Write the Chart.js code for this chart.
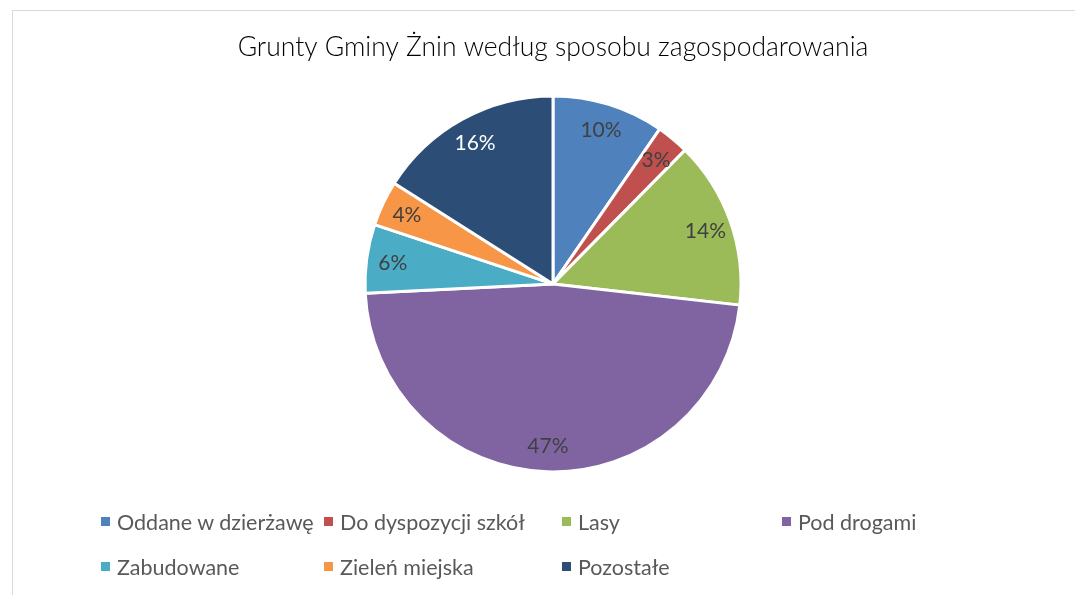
<!DOCTYPE html>
<html>
<head>
  <meta charset="utf-8">
  <title>Grunty Gminy Żnin</title>
  <script src="https://cdn.jsdelivr.net/npm/chart.js"></script>
  <style>
    body {
      margin: 0;
      padding: 0;
      background-color: #fff;
      font-family: Lato, "Open Sans", sans-serif;
    }
    #wrap {
      position: relative;
      width: 1075px;
      height: 595px;
      overflow: hidden;
    }
    .frame {
      position: absolute;
      left: 12px;
      top: 10px;
      width: 1100px;
      height: 620px;
      border: 1px solid #d9d9d9;
    }
    canvas {
      position: absolute;
      left: 0;
      top: 0;
    }
    #legend {
      position: absolute;
      left: 101px;
      top: 499px;
      display: grid;
      grid-template-columns: 223px 238px 220px 200px;
      grid-auto-rows: 45px;
      font-size: 21.5px;
      color: #595959;
    }
    .item {
      display: flex;
      align-items: center;
      white-space: nowrap;
    }
    .box {
      width: 9px;
      height: 9px;
      margin-right: 7px;
      flex: none;
    }
  </style>
</head>
<body>
  <div id="wrap">
    <div class="frame"></div>
    <canvas id="pieChart" width="1075" height="595"></canvas>
    <div id="legend"></div>
  </div>
  <script>
    const categories = ['Oddane w dzierżawę', 'Do dyspozycji szkół', 'Lasy', 'Pod drogami', 'Zabudowane', 'Zieleń miejska', 'Pozostałe'];
    const shares = [9.6, 2.8, 14.4, 47.4, 5.9, 3.9, 16.0];
    const colors = ['#4f81bd', '#c0504d', '#9bbb59', '#8064a2', '#4bacc6', '#f79646', '#2c4d75'];
    const labelColors = ['#404040', '#404040', '#404040', '#404040', '#404040', '#404040', '#ffffff'];

    // percentage labels inside the slices
    const sliceLabels = {
      id: 'sliceLabels',
      afterDatasetsDraw(chart) {
        const ctx = chart.ctx;
        const meta = chart.getDatasetMeta(0);
        const total = shares.reduce((a, b) => a + b, 0);
        ctx.save();
        ctx.font = '21px Lato, "Open Sans", sans-serif';
        ctx.textAlign = 'center';
        ctx.textBaseline = 'middle';
        meta.data.forEach((arc, i) => {
          const mid = (arc.startAngle + arc.endAngle) / 2;
          const r = arc.outerRadius * 0.86;
          const x = arc.x + Math.cos(mid) * r;
          const y = arc.y + Math.sin(mid) * r;
          ctx.fillStyle = labelColors[i];
          ctx.fillText(Math.round(shares[i] / total * 100) + '%', x, y + 1);
        });
        ctx.restore();
      }
    };

    const ctx = document.getElementById('pieChart').getContext('2d');
    new Chart(ctx, {
      type: 'pie',
      data: {
        labels: categories,
        datasets: [{
          data: shares,
          backgroundColor: colors,
          borderColor: '#fff',
          borderWidth: 3,
          radius: 188
        }]
      },
      options: {
        responsive: false,
        animation: false,
        layout: {
          padding: { left: 31, right: 0, top: 0, bottom: 107 }
        },
        plugins: {
          legend: { display: false },
          tooltip: { enabled: false },
          title: {
            display: true,
            text: 'Grunty Gminy Żnin według sposobu zagospodarowania',
            color: '#000',
            font: { family: 'Lato', size: 26.5, weight: '300' },
            padding: { top: 32, bottom: 16 }
          }
        }
      },
      plugins: [sliceLabels]
    });

    const legend = document.getElementById('legend');
    categories.forEach((name, i) => {
      const item = document.createElement('div');
      item.className = 'item';
      item.innerHTML = '<span class="box" style="background:' + colors[i] + '"></span>' + name;
      legend.appendChild(item);
    });
  </script>
</body>
</html>
